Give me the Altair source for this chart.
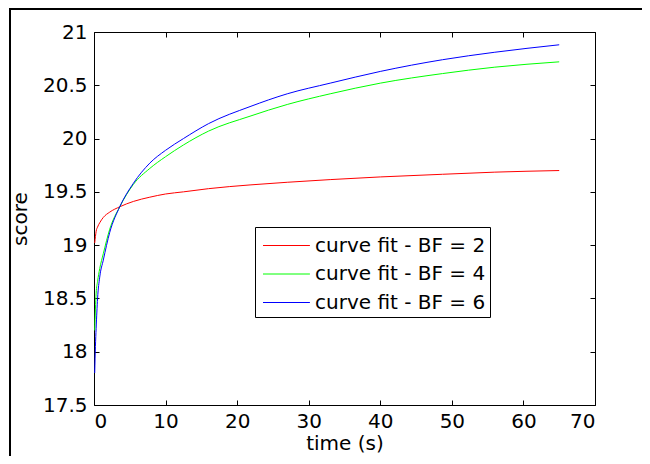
import altair as alt
import pandas as pd

# ---- data ----
t_vals = [0.1, 0.2, 0.3, 0.5, 0.8, 1.3, 2.2, 3.6, 5.5, 7.8, 10, 12.5, 16, 21.8, 27, 33, 40, 48.7, 56, 65]
bf2 = [19.02, 19.08, 19.13, 19.17, 19.21, 19.26, 19.31, 19.36, 19.41, 19.45, 19.48, 19.50, 19.53, 19.565, 19.59, 19.615, 19.64, 19.665, 19.685, 19.70]
bf4 = [18.2, 18.4, 18.55, 18.66, 18.78, 18.92, 19.15, 19.36, 19.57, 19.72, 19.83, 19.94, 20.07, 20.21, 20.32, 20.42, 20.52, 20.61, 20.67, 20.72]
bf6 = [17.8, 18.05, 18.22, 18.5, 18.7, 18.86, 19.12, 19.36, 19.58, 19.77, 19.89, 20.0, 20.14, 20.30, 20.42, 20.52, 20.63, 20.74, 20.81, 20.88]
names = ["curve fit - BF = 2", "curve fit - BF = 4", "curve fit - BF = 6"]
colors = ["#ff0000", "#00ff00", "#0000ff"]
x_ticks = [0, 10, 20, 30, 40, 50, 60, 70]
y_ticks = [17.5, 18, 18.5, 19, 19.5, 20, 20.5, 21]

rows = []
for name, series in zip(names, [bf2, bf4, bf6]):
    for t, v in zip(t_vals, series):
        rows.append({"t": t, "score": v, "series": name})
df = pd.DataFrame(rows)

FONT = "DejaVu Sans"
W, H = 501, 373

xscale = alt.Scale(domain=[0, 70], nice=False, zero=False)
yscale = alt.Scale(domain=[17.5, 21], nice=False, zero=False)

main = alt.Chart(df).mark_line(strokeWidth=1, clip=True, interpolate="monotone").encode(
    x=alt.X("t:Q", scale=xscale, axis=alt.Axis(
        orient="bottom", values=x_ticks, ticks=False, domain=False, grid=False,
        labelFont=FONT, labelFontSize=20, labelColor="black", labelPadding=6,
        title="time (s)", titleFont=FONT, titleFontSize=20, titleFontWeight="normal",
        titleColor="black", titlePadding=2)),
    y=alt.Y("score:Q", scale=yscale, axis=alt.Axis(
        orient="left", values=y_ticks, format="~g", ticks=False, domain=False, grid=False,
        labelFont=FONT, labelFontSize=20, labelColor="black", labelPadding=7,
        title="score", titleFont=FONT, titleFontSize=20, titleFontWeight="normal",
        titleColor="black", titlePadding=12)),
    color=alt.Color("series:N", scale=alt.Scale(domain=names, range=colors), legend=alt.Legend(
        orient="none", legendX=161, legendY=195, title=None,
        strokeColor="black", fillColor="white", padding=4,
        symbolType="M-0.75,0H2.6", symbolSize=784, symbolStrokeWidth=1,
        labelFont=FONT, labelFontSize=20, labelColor="black", labelOffset=27,
        labelLimit=400, rowPadding=3.5)),
)


def tick_layer(xorient, yorient):
    return alt.Chart(df).mark_line(opacity=0).encode(
        x=alt.X("t:Q", scale=xscale, axis=alt.Axis(
            orient=xorient, offset=-5, values=x_ticks, labels=False, domain=False,
            grid=False, ticks=True, tickSize=5, tickColor="black", tickWidth=1, title=None)),
        y=alt.Y("score:Q", scale=yscale, axis=alt.Axis(
            orient=yorient, offset=-5, values=y_ticks, labels=False, domain=False,
            grid=False, ticks=True, tickSize=5, tickColor="black", tickWidth=1, title=None)),
    )


# figure frame lines (left and top edges of the figure window)
frame_left = alt.Chart(pd.DataFrame({"a": [0]})).mark_rect(color="black").encode(
    x=alt.value(-85), x2=alt.value(-83), y=alt.value(-24), y2=alt.value(H + 51))
frame_top = alt.Chart(pd.DataFrame({"a": [0]})).mark_rect(color="black").encode(
    x=alt.value(-85), x2=alt.value(W + 47), y=alt.value(-24), y2=alt.value(-22))

chart = alt.layer(
    main, tick_layer("bottom", "left"), tick_layer("top", "right"), frame_left, frame_top
).resolve_axis(x="independent", y="independent").properties(
    width=W, height=H,
    autosize=alt.AutoSizeParams(type="none"),
    padding={"left": 86, "top": 24, "right": 47, "bottom": 51},
).configure_view(stroke="black", strokeWidth=1)

chart.save("out.html", embed_options={"renderer": "svg", "actions": False})
